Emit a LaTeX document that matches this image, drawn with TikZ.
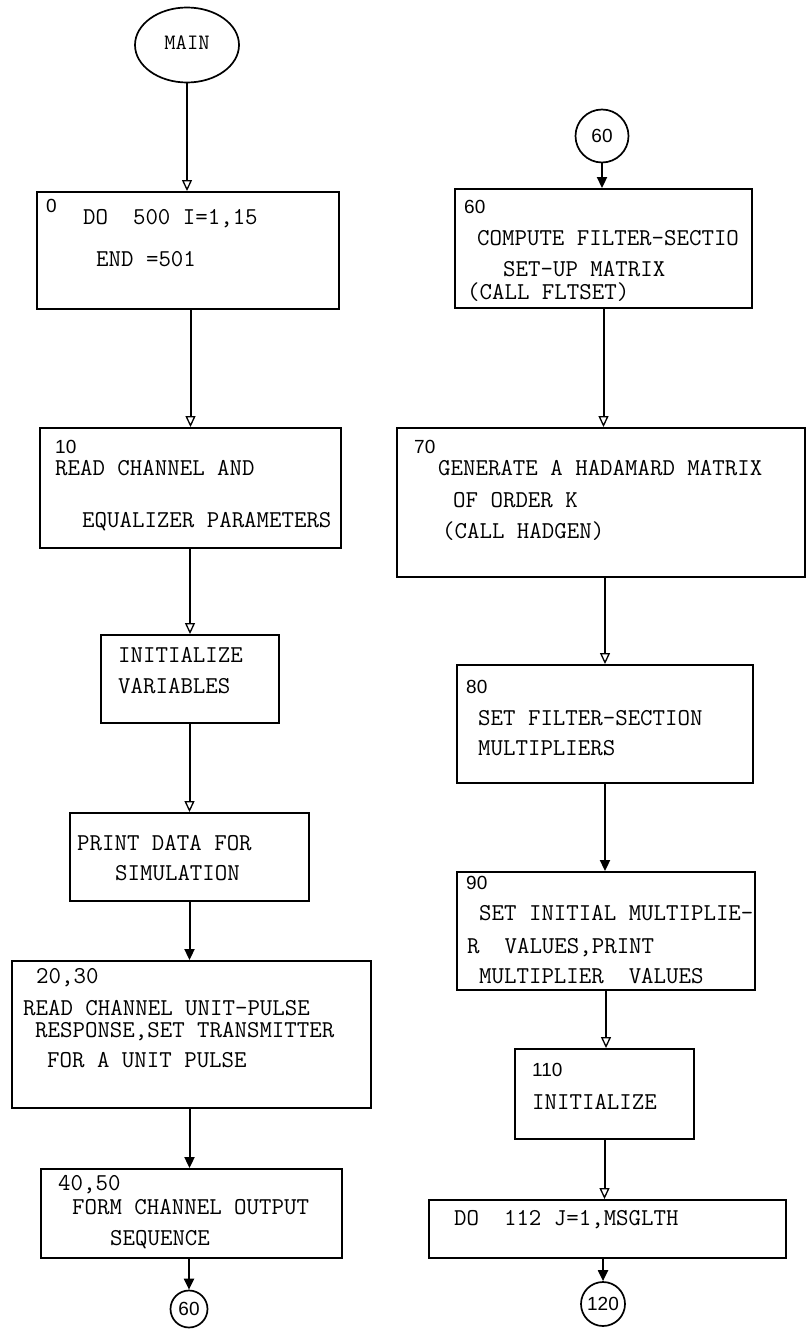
\documentclass[tikz,border=0pt]{standalone}
\usepackage{fontspec}
\setsansfont{Liberation Sans}
\usetikzlibrary{arrows.meta,fit,shapes.geometric}
\begin{document}
\begin{tikzpicture}[x=1pt,y=-1pt,
  stepbox/.style={draw, line width=1.9pt, inner sep=0pt},
  txt/.style={font=\ttfamily\fontsize{24.2}{27}\selectfont, inner sep=0pt, anchor=base west, yshift=-1pt},
  num/.style={font=\sffamily\fontsize{19}{22}\selectfont, inner sep=0pt, anchor=base west},
  link/.style={line width=2pt},
  opentip/.style={link, -{Triangle[open, width=10pt, length=11pt, line width=1.3pt]}},
  solidtip/.style={link, -{Triangle[width=10pt, length=11pt]}},
  conn/.style={draw, circle, line width=1.7pt, inner sep=0pt, font=\sffamily\fontsize{19}{22}\selectfont},
  start/.style={draw, ellipse, line width=1.7pt, inner sep=0pt, minimum width=104pt, minimum height=75pt, font=\ttfamily\fontsize{22}{24}\selectfont}
]
\useasboundingbox (0,0) rectangle (809,1329);

% ---------------- left column ----------------
\node[start] (main) at (187,45) {\raisebox{4pt}{MAIN}};

\node[stepbox, fit={(37,192) (339,309)}] (b0) {};
\node[num] (b0n) at (46,213) {0};
\node[txt] (b0a) at (83,224) {DO\ \ 500 I=1,15};
\node[txt] (b0b) at (96,266) {END =501};

\node[stepbox, fit={(40,428) (341,548)}] (b10) {};
\node[num] (b10n) at (55,453) {10};
\node[txt] (b10a) at (55,474) {READ CHANNEL AND};
\node[txt] (b10b) at (82,526) {EQUALIZER PARAMETERS};

\node[stepbox, fit={(101,635) (279,723)}] (bi) {};
\node[txt] (bia) at (118,661) {INITIALIZE};
\node[txt] (bib) at (118,692) {VARIABLES};

\node[stepbox, fit={(70,813) (309,901)}] (bp) {};
\node[txt] (bpa) at (77,849) {PRINT DATA FOR};
\node[txt] (bpb) at (115,879) {SIMULATION};

\node[stepbox, fit={(12,961) (371,1108)}] (b20) {};
\node[txt] (b20n) at (36,982) {20,30};
\node[txt] (b20a) at (23,1014) {READ CHANNEL UNIT-PULSE};
\node[txt] (b20b) at (35,1036) {RESPONSE,SET TRANSMITTER};
\node[txt] (b20c) at (47,1066) {FOR A UNIT PULSE};

\node[stepbox, fit={(41,1169) (342,1258)}] (b40) {};
\node[txt] (b40n) at (58,1189) {40,50};
\node[txt] (b40a) at (72,1213) {FORM CHANNEL OUTPUT};
\node[txt] (b40b) at (110,1244) {SEQUENCE};

\node[conn, minimum size=37pt] (c60a) at (189,1309) {60};

% ---------------- right column ----------------
\node[conn, minimum size=53pt] (c60b) at (602,136) {60};

\node[stepbox, fit={(455,189) (752,308)}] (r60) {};
\node[num] (r60n) at (464,214) {60};
\node[txt] (r60a) at (477,245) {COMPUTE FILTER-SECTIO};
\node[txt] (r60b) at (503,276) {SET-UP MATRIX};
\node[txt] (r60c) at (467,299) {(CALL FLTSET)};

\node[stepbox, fit={(397,428) (805,577)}] (r70) {};
\node[num] (r70n) at (414,453) {70};
\node[txt] (r70a) at (438,474) {GENERATE A HADAMARD MATRIX};
\node[txt] (r70b) at (453,506) {OF ORDER K};
\node[txt] (r70c) at (442,537) {(CALL HADGEN)};

\node[stepbox, fit={(457,665) (753,783)}] (r80) {};
\node[num] (r80n) at (466,693) {80};
\node[txt] (r80a) at (478,724) {SET FILTER-SECTION};
\node[txt] (r80b) at (478,754) {MULTIPLIERS};

\node[stepbox, fit={(457,872) (755,990)}] (r90) {};
\node[num] (r90n) at (466,889) {90};
\node[txt] (r90a) at (479,919) {SET INITIAL MULTIPLIE-};
\node[txt] (r90b) at (467,952) {R\ \ VALUES,PRINT};
\node[txt] (r90c) at (479,982) {MULTIPLIER\ \ VALUES};

\node[stepbox, fit={(515,1049) (694,1139)}] (r110) {};
\node[num] (r110n) at (532,1076) {110};
\node[txt] (r110a) at (532,1108) {INITIALIZE};

\node[stepbox, fit={(429,1200) (786,1258)}] (r112) {};
\node[txt] (r112a) at (454,1224) {DO\ \ 112 J=1,MSGLTH};

\node[conn, minimum size=44pt] (c120) at (603,1304) {120};

% ---------------- connectors ----------------
\draw[opentip]  (main.south) -- (main.south |- b0.north);
\draw[opentip]  (b10.north |- b0.south) -- (b10.north);
\draw[opentip]  (bi.north |- b10.south) -- (bi.north);
\draw[opentip]  (bp.north |- bi.south) -- (bp.north);
\draw[solidtip] (bp.south) -- (bp.south |- b20.north);
\draw[solidtip] (bp.south |- b20.south) -- (bp.south |- b40.north);
\draw[solidtip] (c60a.north |- b40.south) -- (c60a.north);

\draw[solidtip] (c60b.south) -- (c60b.south |- r60.north);
\draw[opentip]  (r60.south) -- (r60.south |- r70.north);
\draw[opentip]  (r80.north |- r70.south) -- (r80.north);
\draw[solidtip] (r80.south) -- (r80.south |- r90.north);
\draw[opentip]  (r90.south) -- (r90.south |- r110.north);
\draw[opentip]  (r110.south) -- (r110.south |- r112.north);
\draw[solidtip] (c120.north |- r112.south) -- (c120.north);
\end{tikzpicture}
\end{document}
